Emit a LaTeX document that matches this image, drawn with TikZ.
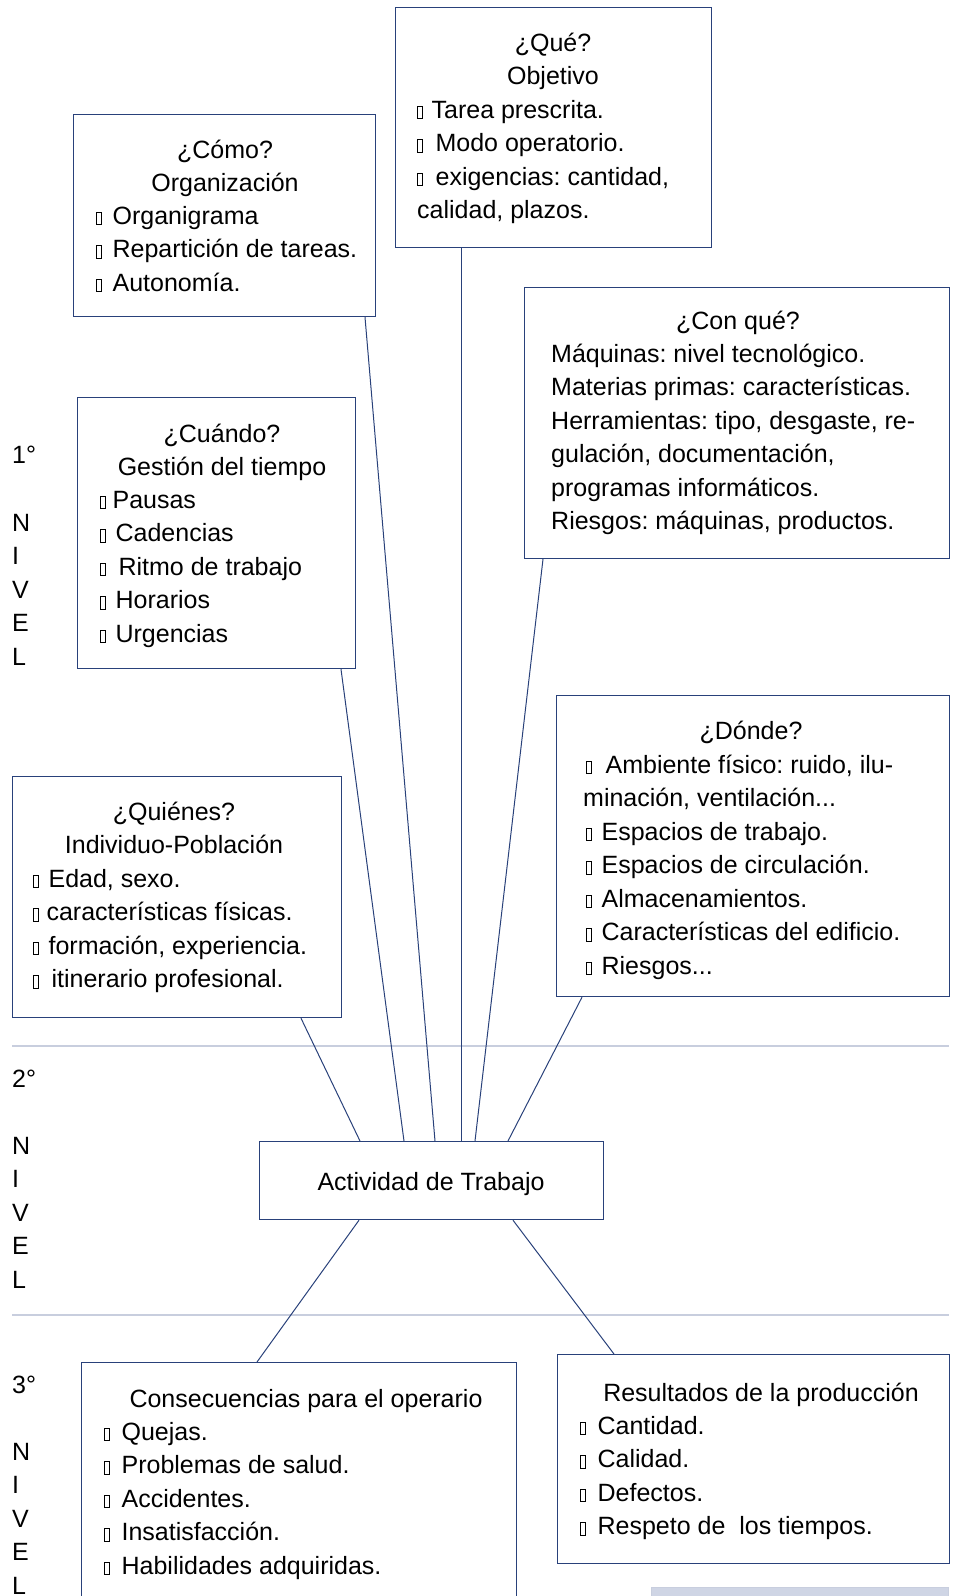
\documentclass[tikz,border=0pt]{standalone}
\usepackage{fontspec}
\setmainfont{Liberation Sans}
\usetikzlibrary{calc}
\frenchspacing
\definecolor{navy}{RGB}{41,65,122}
\definecolor{sepcol}{RGB}{200,206,222}
\definecolor{pale}{RGB}{207,213,229}
\newcommand{\bul}[1][10pt]{{\fboxsep=0pt\fboxrule=0.7pt\fbox{\rule{0pt}{11.5pt}\hspace{4pt}}}\hspace{#1}}
\begin{document}
\begin{tikzpicture}[x=1pt,y=-1pt,
  box/.style={draw=navy,line width=1.2pt,rectangle,inner sep=0pt,anchor=north west},
  txt/.style={inner sep=0pt,font=\fontsize{25}{33.5}\selectfont},
  hd/.style={txt,align=center,anchor=base},
  bd/.style={txt,align=left,anchor=base west},
  conn/.style={draw=navy,line width=1pt},
  sepline/.style={draw=sepcol,line width=2.2pt}]
\useasboundingbox (0,0) rectangle (954,1596);
\clip (0,0) rectangle (954,1596);

% separators
\coordinate (s1a) at (12,1046); \coordinate (s1b) at (949,1046);
\coordinate (s2a) at (12,1315); \coordinate (s2b) at (949,1315);
\draw[sepline] (s1a) -- (s1b);
\draw[sepline] (s2a) -- (s2b);

% level labels (multi-line nodes are placed by their last baseline)
\node[bd] (l1) at (12,463) {1°};
\node[bd] (n1) at (12,665) {N\\I\\V\\E\\L};
\node[bd] (l2) at (12,1087) {2°};
\node[bd] (n2) at (12,1288) {N\\I\\V\\E\\L};
\node[bd] (l3) at (12,1393) {3°};
\node[bd] (n3) at (12,1594) {N\\I\\V\\E\\L};

% boxes
\node[box,minimum width=316pt,minimum height=240pt] (que) at (395,7) {};
\node[box,minimum width=302pt,minimum height=202pt] (como) at (73,114) {};
\node[box,minimum width=278pt,minimum height=271pt] (cuando) at (77,397) {};
\node[box,minimum width=425pt,minimum height=271pt] (conque) at (524,287) {};
\node[box,minimum width=393pt,minimum height=301pt] (donde) at (556,695) {};
\node[box,minimum width=329pt,minimum height=241pt] (quien) at (12,776) {};
\node[box,minimum width=344pt,minimum height=78pt] (act) at (259,1141) {};
\node[box,minimum width=435pt,minimum height=300pt] (cons) at (81,1362) {};
\node[box,minimum width=392pt,minimum height=209pt] (res) at (557,1354) {};
\node[box,draw=sepcol,fill=pale,line width=1pt,minimum width=297pt,minimum height=40pt] (pal) at (651,1587) {};

% texts
\node[hd] (queh) at (553,84.5) {¿Qué?\\Objetivo};
\node[bd] (queb) at (417,218.5) {\bul[9pt]Tarea prescrita.\\\bul[13pt]Modo operatorio.\\\bul[13pt]exigencias: cantidad,\\calidad, plazos.};

\node[hd] (comoh) at (225,191.5) {¿Cómo?\\Organización};
\node[bd] (comob) at (96,291) {\bul[11pt]Organigrama\\\bul[11pt]Repartición de tareas.\\\bul[11pt]Autonomía.};

\node[hd] (cuandoh) at (222,475.5) {¿Cuándo?\\Gestión del tiempo};
\node[bd] (cuandob) at (100,642) {\bul[7pt]Pausas\\\bul[10pt]Cadencias\\\bul[13pt]Ritmo de trabajo\\\bul[10pt]Horarios\\\bul[10pt]Urgencias};

\node[hd] (conqueh) at (738,329) {¿Con qué?};
\node[bd] (conqueb) at (551,529.5) {Máquinas: nivel tecnológico.\\Materias primas: características.\\Herramientas: tipo, desgaste, re-\\gulación, documentación,\\programas informáticos.\\Riesgos: máquinas, productos.};

\node[hd] (dondeh) at (751,739) {¿Dónde?};
\node[bd] (dondeb) at (586,974) {\bul[14pt]Ambiente físico: ruido, ilu-\\\hspace*{-3pt}minación, ventilación...\\\bul[10pt]Espacios de trabajo.\\\bul[10pt]Espacios de circulación.\\\bul[10pt]Almacenamientos.\\\bul[10pt]Características del edificio.\\\bul[10pt]Riesgos...};

\node[hd] (quienh) at (174,853.5) {¿Quiénes?\\Individuo-Población};
\node[bd] (quienb) at (33,987.5) {\bul[10pt]Edad, sexo.\\\bul[8pt]características físicas.\\\bul[10pt]formación, experiencia.\\\bul[13pt]itinerario profesional.};

\node[hd] (acth) at (431,1190) {Actividad de Trabajo};

\node[hd] (consh) at (306,1407) {Consecuencias para el operario};
\node[bd] (consb) at (104,1574) {\bul[12pt]Quejas.\\\bul[12pt]Problemas de salud.\\\bul[12pt]Accidentes.\\\bul[12pt]Insatisfacción.\\\bul[12pt]Habilidades adquiridas.};

\node[hd] (resh) at (761,1401) {Resultados de la producción};
\node[bd] (resb) at (580,1534.5) {\bul[12pt]Cantidad.\\\bul[12pt]Calidad.\\\bul[12pt]Defectos.\\\bul[12pt]Respeto de\ \ los tiempos.};

% connectors
\draw[conn] ([xshift=289pt]quien.south west) -- ([xshift=101pt]act.north west);
\draw[conn] ([xshift=264pt]cuando.south west) -- ([xshift=145pt]act.north west);
\draw[conn] ([xshift=292pt]como.south west) -- ([xshift=176pt]act.north west);
\draw[conn] ([xshift=66pt]que.south west) -- ([xshift=202pt]act.north west);
\draw[conn] ([xshift=19pt]conque.south west) -- ([xshift=216pt]act.north west);
\draw[conn] ([xshift=26pt]donde.south west) -- ([xshift=249pt]act.north west);
\draw[conn] ([xshift=100pt]act.south west) -- ([xshift=176pt]cons.north west);
\draw[conn] ([xshift=254pt]act.south west) -- ([xshift=57pt]res.north west);
\end{tikzpicture}
\end{document}
